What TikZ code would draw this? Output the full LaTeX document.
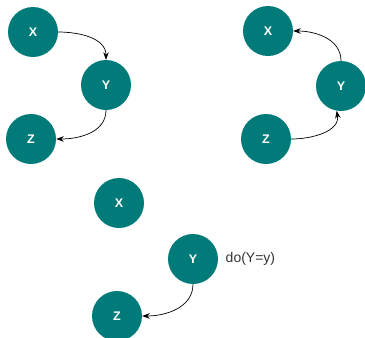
\documentclass[tikz,border=0pt]{standalone}
\usepackage{fontspec}
\setmainfont{Liberation Sans}
\usepackage{tikz}
\usetikzlibrary{arrows.meta, positioning}
\definecolor{nodeteal}{HTML}{007B7A}
\definecolor{labelgray}{HTML}{333333}

\begin{document}
\begin{tikzpicture}[
  x=1pt, y=-1pt,
  var/.style={circle, fill=nodeteal, minimum size=50pt, inner sep=0pt, text=white, font=\bfseries\fontsize{12.5}{14}\selectfont},
  arrow/.style={-{Stealth[length=7.5pt, width=5.5pt]}, line width=0.7pt}
]
  \useasboundingbox (0,0) rectangle (365,338);

  % chain X -> Y -> Z
  \node[var] (x1) at (33,32) {X};
  \node[var] (y1) at (106,85) {Y};
  \node[var] (z1) at (31,139) {Z};

  % reversed chain Z -> Y -> X
  \node[var] (x2) at (268,31) {X};
  \node[var] (y2) at (341,86) {Y};
  \node[var] (z2) at (266,139) {Z};

  % after the intervention on Y
  \node[var] (x3) at (119,203) {X};
  \node[var] (y3) at (193,259) {Y};
  \node[var] (z3) at (117,316) {Z};
  \node[right=4pt of y3, text=labelgray, font=\fontsize{14}{16}\selectfont] (doy) {do(Y=y)};

  \draw[arrow] (x1.east) to[out=0, in=90] (y1.north);
  \draw[arrow] (y1.south) to[out=-90, in=0] (z1.east);

  \draw[arrow] (y2.north) to[out=90, in=0] (x2.east);
  \draw[arrow] (z2.east) to[out=0, in=-80] (y2.-100);

  \draw[arrow] (y3.south) to[out=-90, in=0] (z3.east);
\end{tikzpicture}
\end{document}
